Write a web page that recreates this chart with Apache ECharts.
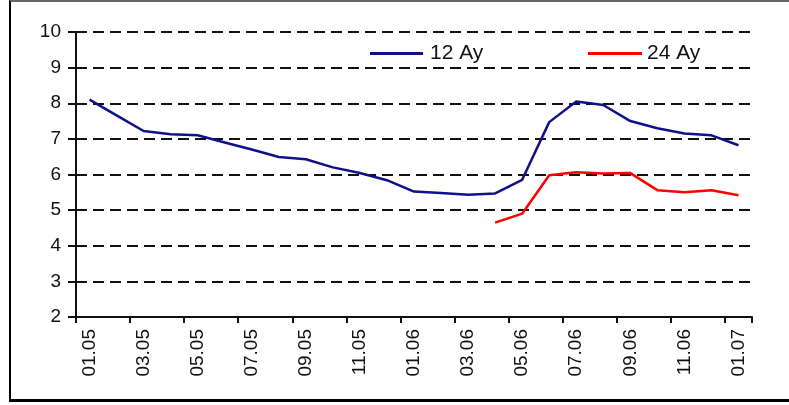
<!DOCTYPE html>
<html>
<head>
<meta charset="utf-8">
<script src="https://cdn.jsdelivr.net/npm/echarts@6/dist/echarts.min.js"></script>
<style>
  html, body { margin: 0; padding: 0; background: #fff; }
  #wrap { position: relative; width: 789px; height: 405px; overflow: hidden; }
  #chart { position: absolute; left: 0; top: 0; width: 789px; height: 405px; }
  #frame { position: absolute; left: 9px; top: 0px; width: 790px; height: 397px;
           border-top: 2px solid #666; border-left: 2px solid #000; border-bottom: 3px solid #000;
           pointer-events: none; }
</style>
</head>
<body>
<div id="wrap">
  <div id="chart"></div>
  <div id="frame"></div>
</div>
<script>
const categories = ['01.05','02.05','03.05','04.05','05.05','06.05','07.05','08.05','09.05','10.05','11.05','12.05',
                    '01.06','02.06','03.06','04.06','05.06','06.06','07.06','08.06','09.06','10.06','11.06','12.06','01.07'];
const series12 = [8.1, 7.66, 7.22, 7.13, 7.1, 6.9, 6.7, 6.49, 6.43, 6.2, 6.04, 5.84,
                  5.52, 5.48, 5.43, 5.47, 5.85, 7.47, 8.05, 7.95, 7.5, 7.3, 7.15, 7.1, 6.82];
const series24 = [null, null, null, null, null, null, null, null, null, null, null, null,
                  null, null, null, 4.65, 4.9, 5.98, 6.06, 6.03, 6.04, 5.56, 5.5, 5.56, 5.42];
const yTicks = { min: 2, max: 10, interval: 1 };

const font = "'Liberation Sans', Arial, sans-serif";
const chart = echarts.init(document.getElementById('chart'));
chart.setOption({
  animation: false,
  backgroundColor: '#fff',
  textStyle: { fontFamily: font },
  legend: [
    { data: ['12 Ay'], left: 370, top: 43, padding: 0, icon: 'rect', itemWidth: 53, itemHeight: 3, itemGap: 6,
      textStyle: { fontFamily: font, fontSize: 21, color: '#111', padding: [0, 0, 0, 2] } },
    { data: ['24 Ay'], left: 588, top: 43, padding: 0, icon: 'rect', itemWidth: 54, itemHeight: 3, itemGap: 6,
      textStyle: { fontFamily: font, fontSize: 21, color: '#111', padding: [0, 0, 0, 0] } }
  ],
  grid: { left: 76, right: 37, top: 32, bottom: 88 },
  xAxis: {
    type: 'category',
    data: categories,
    boundaryGap: true,
    axisLine: { show: true, lineStyle: { color: '#111', width: 2 } },
    axisTick: { show: true, interval: function (i) { return i % 2 === 0 && i < categories.length; },
                length: 6, lineStyle: { color: '#111', width: 2 } },
    axisLabel: { interval: 1, rotate: 90, margin: 12, fontFamily: font, fontSize: 19, color: '#111' },
    splitLine: { show: false }
  },
  yAxis: {
    type: 'value',
    min: yTicks.min, max: yTicks.max, interval: yTicks.interval,
    axisLine: { show: true, lineStyle: { color: '#111', width: 2 } },
    axisTick: { show: true, length: 8, lineStyle: { color: '#111', width: 2 } },
    axisLabel: { margin: 15, fontFamily: font, fontSize: 19, color: '#111' },
    splitLine: { show: true, lineStyle: { color: '#111', width: 2, type: [11, 6] } }
  },
  series: [
    { name: '12 Ay', type: 'line', data: series12, symbol: 'none', smooth: false,
      itemStyle: { color: '#10108a' }, lineStyle: { color: '#10108a', width: 2.5 } },
    { name: '24 Ay', type: 'line', data: series24, symbol: 'none', smooth: false, connectNulls: false,
      itemStyle: { color: '#ff0000' }, lineStyle: { color: '#ff0000', width: 2.5 } }
  ]
});
</script>
</body>
</html>
